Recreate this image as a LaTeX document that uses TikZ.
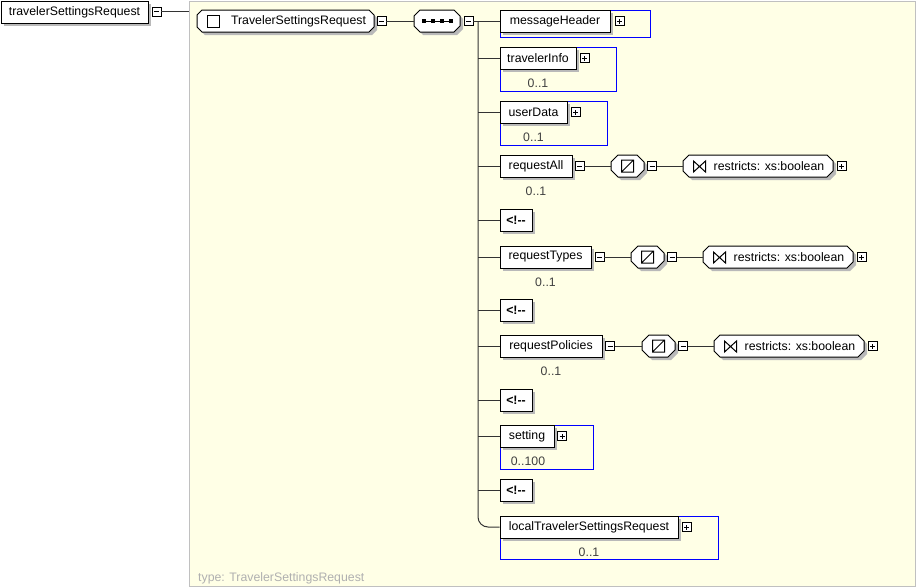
\documentclass[tikz,border=0pt]{standalone}
\usepackage{fontspec}
\setmainfont{Liberation Sans}
\usetikzlibrary{shadows}
\definecolor{bgyellow}{RGB}{255,255,230}
\definecolor{bgborder}{RGB}{192,192,192}
\definecolor{shadowgray}{RGB}{185,185,185}
\definecolor{linegray}{RGB}{51,51,51}
\definecolor{cardgray}{RGB}{64,64,64}
\definecolor{footgray}{RGB}{176,176,176}
\tikzset{
  shad/.style={drop shadow={shadow xshift=3pt,shadow yshift=-3pt,fill=shadowgray,opacity=1}},
  elem/.style={draw=black,line width=1pt,fill=white,minimum height=22pt,inner sep=0pt,shad},
  octlabel/.style={inner sep=0pt,minimum height=22pt},
  bluebox/.style={draw=blue,line width=1pt,inner sep=0pt},
  pm/.style={draw=black,line width=0.8pt,fill=white,minimum size=9pt,inner sep=0pt},
  minusbox/.style={pm,path picture={\draw[line width=0.8pt]
     ([xshift=2pt]path picture bounding box.west) -- ([xshift=-2pt]path picture bounding box.east);}},
  plusbox/.style={pm,path picture={\draw[line width=0.8pt]
     ([xshift=2pt]path picture bounding box.west) -- ([xshift=-2pt]path picture bounding box.east)
     ([yshift=2pt]path picture bounding box.south) -- ([yshift=-2pt]path picture bounding box.north);}},
  card/.style={text=cardgray,inner sep=0pt},
  conn/.style={draw=linegray,line width=1pt},
  cmt/.style={elem,minimum width=32pt,font=\fontsize{12.3}{14}\selectfont\bfseries},
}
\newcommand{\cmttext}{<!\mbox{-}\mbox{-}}
% octagon outline: #1 cx, #2 cy, #3 w, #4 h, #5 chamfer
\newcommand{\octpath}[5]{(#1-#3/2+#5,#2-#4/2) -- (#1+#3/2-#5,#2-#4/2) -- (#1+#3/2,#2-#4/2+#5)
  -- (#1+#3/2,#2+#4/2-#5) -- (#1+#3/2-#5,#2+#4/2) -- (#1-#3/2+#5,#2+#4/2) -- (#1-#3/2,#2+#4/2-#5)
  -- (#1-#3/2,#2-#4/2+#5) -- cycle}
% \octnode{name}{cx}{cy}{w}{chamfer}{text}
\newcommand{\octnode}[6]{%
  \fill[shadowgray] \octpath{#2+3}{#3+3}{#4}{22}{#5};
  \filldraw[fill=white,draw=black,line width=1pt] \octpath{#2}{#3}{#4}{22}{#5};
  \node[octlabel,minimum width=#4pt] (#1) at (#2,#3) {#6};}
\begin{document}
\begin{tikzpicture}[x=1pt,y=-1pt,font=\fontsize{12.3}{14}\selectfont]
\useasboundingbox (0,0) rectangle (916,587);
% background
\node[draw=bgborder,fill=bgyellow,line width=1pt,minimum width=726pt,minimum height=585pt,
  inner sep=0pt,anchor=north west] (bg) at (188.5,0.5) {};
\node[anchor=west,text=footgray,inner sep=0pt] (foot) at (198,578) {type: TravelerSettingsRequest};

% root
\node[elem,minimum width=147pt] (root) at (74.5,12) {travelerSettingsRequest};
\node[minusbox] (rootm) at (156.5,11.5) {};
\draw[conn] (rootm.east) -- (rootm.east -| bg.west);

% complex type
\octnode{ct}{285.5}{21}{177}{5}{\hspace*{26pt}TravelerSettingsRequest}
\draw[line width=1pt] (207.5,15.5) rectangle (219.5,27.5);
\node[minusbox] (ctm) at (381.5,21) {};

% sequence
\octnode{seq}{437}{21}{46}{6}{}
\draw[line width=1pt] (423,21) -- (452,21);
\foreach \dx in {-13.5,-4.5,4.5,13.5}{\fill (437+\dx-2,19) rectangle (437+\dx+2,23);}
\node[minusbox] (seqm) at (468.5,21) {};
\draw[conn] (ctm.east) -- (seq.west);

\coordinate (bus) at (478,21);

% messageHeader
\node[bluebox,minimum width=150pt,minimum height=27pt] (mhB) at (575,23.5) {};
\node[elem,minimum width=110pt] (mh) at (555,21) {messageHeader};
\node[plusbox] (mhp) at (619.5,21) {};
\draw[conn] (seqm.east) -- (mh.west);

% travelerInfo
\node[bluebox,minimum width=116pt,minimum height=44pt] (tiB) at (558,69) {};
\node[elem,minimum width=76pt] (ti) at (538,58) {travelerInfo};
\node[plusbox] (tip) at (584.5,58) {};
\node[card] (tic) at (538,83) {0..1};
\draw[conn] (bus |- ti.west) -- (ti.west);

% userData
\node[bluebox,minimum width=107pt,minimum height=44pt] (udB) at (553.5,123) {};
\node[elem,minimum width=67pt] (ud) at (533.5,112) {userData};
\node[plusbox] (udp) at (575.5,112) {};
\node[card] (udc) at (533.5,137) {0..1};
\draw[conn] (bus |- ud.west) -- (ud.west);

% requestAll
\node[elem,minimum width=72pt] (ra) at (536,166) {requestAll};
\node[minusbox] (ram) at (579.5,166) {};
\octnode{st1}{627.5}{166}{33}{7}{}
\draw[line width=1pt] (621.5,172) rectangle (633.5,160) (621.5,172) -- (633.5,160);
\node[minusbox] (st1m) at (652,166) {};
\octnode{rs1}{758}{166}{150}{6}{\hspace*{22pt}restricts: xs:boolean}
\draw[line width=1pt] (693.5,161) -- (693.5,172) -- (705.5,161) -- (705.5,172) -- cycle;
\node[plusbox] (rs1p) at (841.5,166) {};
\node[card] (rac) at (536,191) {0..1};
\draw[conn] (bus |- ra.west) -- (ra.west);
\draw[conn] (ram.east) -- (st1.west);
\draw[conn] (st1m.east) -- (rs1.west);

% comment 1
\node[cmt] (c1) at (516,220) {\cmttext};
\draw[conn] (bus |- c1.west) -- (c1.west);

% requestTypes
\node[elem,minimum width=91pt] (rt) at (545.5,257) {requestTypes};
\node[minusbox] (rtm) at (599.5,257) {};
\octnode{st2}{647.5}{257}{33}{7}{}
\draw[line width=1pt] (641.5,263) rectangle (653.5,251) (641.5,263) -- (653.5,251);
\node[minusbox] (st2m) at (672,257) {};
\octnode{rs2}{778}{257}{150}{6}{\hspace*{22pt}restricts: xs:boolean}
\draw[line width=1pt] (713.5,252) -- (713.5,263) -- (725.5,252) -- (725.5,263) -- cycle;
\node[plusbox] (rs2p) at (861.5,257) {};
\node[card] (rtc) at (545.5,282) {0..1};
\draw[conn] (bus |- rt.west) -- (rt.west);
\draw[conn] (rtm.east) -- (st2.west);
\draw[conn] (st2m.east) -- (rs2.west);

% comment 2
\node[cmt] (c2) at (516,310) {\cmttext};
\draw[conn] (bus |- c2.west) -- (c2.west);

% requestPolicies
\node[elem,minimum width=102pt] (rp) at (551,346) {requestPolicies};
\node[minusbox] (rpm) at (610,346) {};
\octnode{st3}{658.5}{346}{33}{7}{}
\draw[line width=1pt] (652.5,352) rectangle (664.5,340) (652.5,352) -- (664.5,340);
\node[minusbox] (st3m) at (683,346) {};
\octnode{rs3}{789}{346}{150}{6}{\hspace*{22pt}restricts: xs:boolean}
\draw[line width=1pt] (724.5,341) -- (724.5,352) -- (736.5,341) -- (736.5,352) -- cycle;
\node[plusbox] (rs3p) at (872.5,346) {};
\node[card] (rpc) at (551,371) {0..1};
\draw[conn] (bus |- rp.west) -- (rp.west);
\draw[conn] (rpm.east) -- (st3.west);
\draw[conn] (st3m.east) -- (rs3.west);

% comment 3
\node[cmt] (c3) at (516,400) {\cmttext};
\draw[conn] (bus |- c3.west) -- (c3.west);

% setting
\node[bluebox,minimum width=93pt,minimum height=44pt] (seB) at (546.5,447) {};
\node[elem,minimum width=54pt] (se) at (527,436) {setting};
\node[plusbox] (sep) at (562,436) {};
\node[card] (sec) at (528,461) {0..100};
\draw[conn] (bus |- se.west) -- (se.west);

% comment 4
\node[cmt] (c4) at (516,490) {\cmttext};
\draw[conn] (bus |- c4.west) -- (c4.west);

% localTravelerSettingsRequest
\node[bluebox,minimum width=218pt,minimum height=43pt] (ltB) at (609,537.5) {};
\node[elem,minimum width=178pt] (lt) at (589,527) {localTravelerSettingsRequest};
\node[plusbox] (ltp) at (686.5,527) {};
\node[card] (ltc) at (589,552) {0..1};

% bus
\draw[conn,rounded corners=10pt] (bus) |- (lt.west);
\end{tikzpicture}
\end{document}
